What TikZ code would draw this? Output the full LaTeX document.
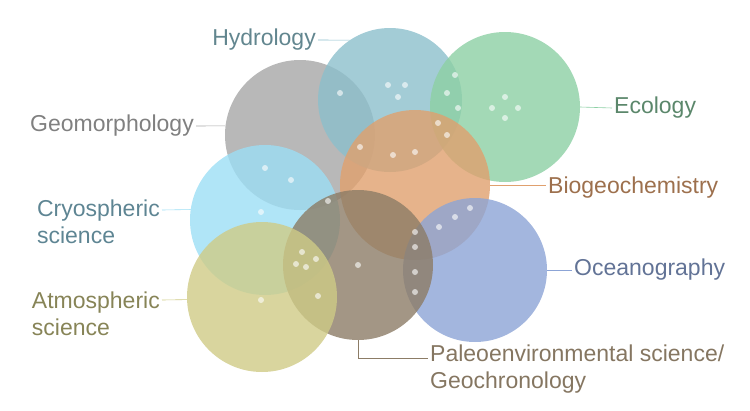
\documentclass[tikz,border=0pt]{standalone}
\usepackage{fontspec}
\setmainfont{Liberation Sans}
\usetikzlibrary{positioning}
\definecolor{cGeo}{HTML}{A6A6A6}
\definecolor{cHyd}{HTML}{8CBFCC}
\definecolor{cEco}{HTML}{8CD0A4}
\definecolor{cBio}{HTML}{E0A06E}
\definecolor{cCry}{HTML}{9CDEF5}
\definecolor{cOce}{HTML}{8CA4D6}
\definecolor{cPal}{HTML}{8C7C66}
\definecolor{cAtm}{HTML}{CFCB86}
\tikzset{
  disc/.style={circle,minimum size=150pt,inner sep=0pt,fill=#1,fill opacity=0.8},
  lbl/.style={text=#1,font=\fontsize{23}{27}\selectfont,inner sep=2pt,align=left},
  lead/.style={draw=#1,line width=0.6pt}
}
\begin{document}
\begin{tikzpicture}[x=1pt,y=-1pt]
  \useasboundingbox (0,0) rectangle (750,410);
  % circles
  \node[disc=cGeo] (geo) at (300,135) {};
  \node[disc=cHyd,minimum size=144pt] (hyd) at (390,100) {};
  \node[disc=cEco] (eco) at (505,107) {};
  \node[disc=cBio] (bio) at (415,185) {};
  \node[disc=cCry] (cry) at (265,220) {};
  \node[disc=cOce,minimum size=144pt] (oce) at (475,270) {};
  \node[disc=cPal] (pal) at (358,265) {};
  \node[disc=cAtm] (atm) at (262,297) {};
  % dots
  \foreach \p in {(340,93),(388,85),(405,85),(398,97),(455,75),(447,93),(458,108),
      (492,108),(505,97),(518,108),(505,118),(438,123),(447,135),(360,147),(393,155),
      (415,152),(265,168),(291,180),(261,212),(328,201),(470,208),(455,217),(439,227),
      (415,232),(415,247),(302,252),(316,259),(296,264),(306,267),(358,265),(415,272),
      (415,292),(318,296),(261,300)}
    \fill[white,fill opacity=0.6] \p circle (3);
  % labels
  \node[lbl=cHyd!70!black,anchor=east] (lhyd) at (318,40) {Hydrology};
  \node[lbl=black!50,anchor=east] (lgeo) at (196,126) {Geomorphology};
  \node[lbl=cEco!65!black,anchor=west] (leco) at (612,108) {Ecology};
  \node[lbl=cBio!70!black,anchor=west] (lbio) at (546,188) {Biogeochemistry};
  \node[lbl=cCry!60!black,anchor=east,align=left] (lcry) at (162,222) {Cryospheric\\science};
  \node[lbl=cOce!70!black,anchor=west] (loce) at (572,270) {Oceanography};
  \node[lbl=cAtm!65!black,anchor=east,align=left] (latm) at (162,314) {Atmospheric\\science};
  \node[lbl=cPal!95!black,anchor=west] (lpal) at (428,369) {Paleoenvironmental science/\\Geochronology};
  % leaders
  \draw[lead=cHyd] (lhyd.east) -- (hyd.124);
  \draw[lead=cGeo] (lgeo.east) -- (geo.173);
  \draw[lead=cEco] (eco.east) -- (leco.west);
  \draw[lead=cBio] (bio.east) -- (lbio.west |- bio.east);
  \draw[lead=cCry] (lcry.east |- 0,210) -- (cry.172);
  \draw[lead=cOce] (oce.east) -- (loce.west);
  \draw[lead=cAtm] (latm.east |- 0,300) -- (atm.182);
  \draw[lead=cPal] (pal.south) |- (lpal.west |- 0,358);
\end{tikzpicture}
\end{document}
